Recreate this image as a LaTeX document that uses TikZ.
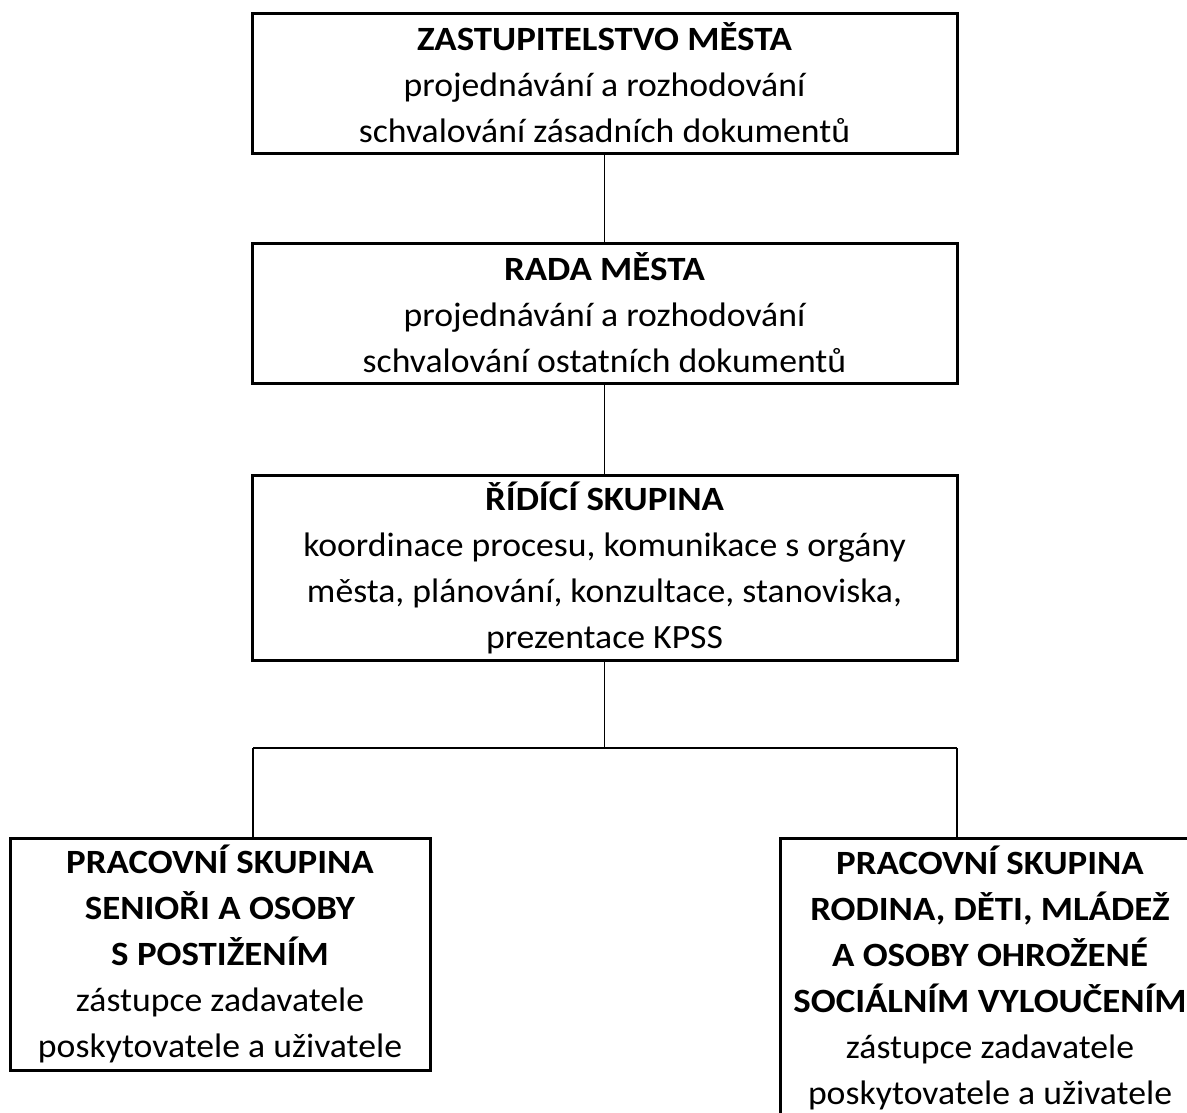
\documentclass[tikz,border=0pt]{standalone}
\usepackage{fontspec}
\setmainfont{Carlito}[FakeStretch=1.05,BoldFeatures={FakeStretch=1.085}]
\begin{document}
\begin{tikzpicture}[x=1pt,y=-1pt,
  orgbox/.style={draw=black,line width=3pt,align=center,inner sep=0pt,
    font=\fontsize{34}{46}\selectfont},
  link/.style={draw=black,line width=1.4pt}]
\useasboundingbox (0,0) rectangle (1187,1112);
\node[orgbox,minimum width=705pt,minimum height=140pt] (zm) at (604.5,83)
  {\textbf{ZASTUPITELSTVO MĚSTA}\\projednávání a rozhodování\\schvalování zásadních dokumentů};
\node[orgbox,minimum width=705pt,minimum height=140pt] (rm) at (604.5,313)
  {\textbf{RADA MĚSTA}\\projednávání a rozhodování\\schvalování ostatních dokumentů};
\node[orgbox,minimum width=705pt,minimum height=185pt] (rs) at (604.5,567.5)
  {\textbf{ŘÍDÍCÍ SKUPINA}\\koordinace procesu, komunikace s orgány\\města, plánování, konzultace, stanoviska,\\prezentace KPSS};
\node[orgbox,minimum width=420pt,minimum height=232pt] (ps1) at (220,954)
  {\textbf{PRACOVNÍ SKUPINA}\\\textbf{SENIOŘI A OSOBY}\\\textbf{S POSTIŽENÍM}\\zástupce zadavatele\\poskytovatele a uživatele};
\node[orgbox,minimum width=420pt,minimum height=280pt] (ps2) at (990,978)
  {\textbf{PRACOVNÍ SKUPINA}\\\textbf{RODINA, DĚTI, MLÁDEŽ}\\\textbf{A OSOBY OHROŽENÉ}\\\textbf{SOCIÁLNÍM VYLOUČENÍM}\\zástupce zadavatele\\poskytovatele a uživatele};
\coordinate (jl) at (253,748);
\coordinate (jr) at (957,748);
\draw[link] (zm.south) -- (rm.north);
\draw[link] (rm.south) -- (rs.north);
\draw[link] (rs.south) -- (rs.south |- jl);
\draw[link] (jl) -- (jr);
\draw[link] (jl) -- (jl |- ps1.north);
\draw[link] (jr) -- (jr |- ps2.north);
\end{tikzpicture}
\end{document}
